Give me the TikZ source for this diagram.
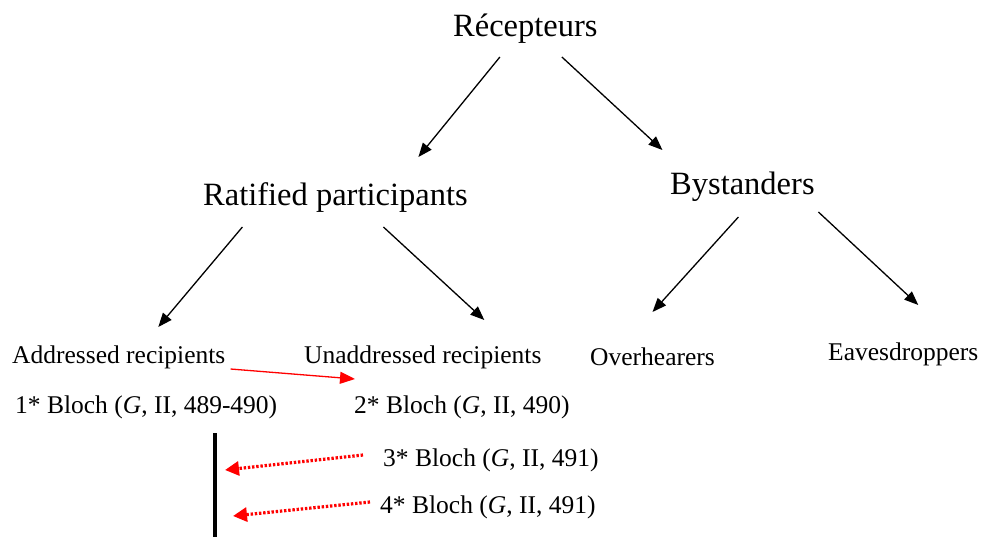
\documentclass[tikz,border=0pt]{standalone}
\usepackage{fontspec}
\setmainfont{Liberation Serif}
\usetikzlibrary{arrows.meta,calc}
\begin{document}
\begin{tikzpicture}[x=1pt,y=-1pt,
  big/.style={inner sep=0pt,anchor=base west,font=\fontsize{32.5}{36}\selectfont},
  small/.style={inner sep=0pt,anchor=base west,font=\fontsize{25.5}{29}\selectfont},
  arr/.style={line width=1.3pt,-{Triangle[length=14pt,width=11pt]}},
  redarr/.style={red,line width=1.3pt,-{Triangle[length=15pt,width=12pt]}},
  dotarr/.style={red,line width=3.2pt,dash pattern=on 2.4pt off 1.8pt,-{Triangle[length=14pt,width=14pt]}}
]
\useasboundingbox (0,0) rectangle (981,537);
\node[big] (rec) at (453,37) {Récepteurs};
\node[big] (rat) at (203,206) {Ratified participants};
\node[big] (bys) at (670,195) {Bystanders};
\node[small] (addr) at (12,363) {Addressed recipients};
\node[small] (unad) at (304,363) {Unaddressed recipients};
\node[small] (ovh) at (590,365) {Overhearers};
\node[small] (eav) at (828,360) {Eavesdroppers};
\node[small] (b1) at (15,413) {1* Bloch (\textit{G}, II, 489-490)};
\node[small] (b2) at (354,413) {2* Bloch (\textit{G}, II, 490)};
\node[small] (b3) at (383,466) {3* Bloch (\textit{G}, II, 491)};
\node[small] (b4) at (380,513) {4* Bloch (\textit{G}, II, 491)};
\coordinate (bartop) at ($(b1.base west)+(200,20)$);
\coordinate (barbot) at (215,537);
\draw[line width=4pt] (bartop) -- (barbot);
\draw[arr] ($(rec.base)+(-25.5,20)$) -- ($(rat.base)+(83,-49)$);
\draw[arr] ($(rec.base)+(36.5,20)$) -- ($(bys.base)+(-80,-45)$);
\draw[arr] ($(rat.base)+(-93,21)$) -- ($(addr.base)+(39.5,-36)$);
\draw[arr] ($(rat.base)+(48,21)$) -- ($(unad.base)+(61.5,-43)$);
\draw[arr] ($(bys.base)+(-4,22)$) -- ($(ovh.base)+(0,-53)$);
\draw[arr] ($(bys.base)+(76,17)$) -- ($(eav.base)+(15,-55)$);
\draw[redarr] ($(addr.base east)+(5,6)$) -- ($(unad.base west)+(51,16)$);
\draw[dotarr] ($(b3.base west)+(-20,-11)$) -- ($(bartop)+(10,37)$);
\draw[dotarr] ($(b4.base west)+(-10,-11)$) -- ($(bartop)+(18,83)$);
\end{tikzpicture}
\end{document}
